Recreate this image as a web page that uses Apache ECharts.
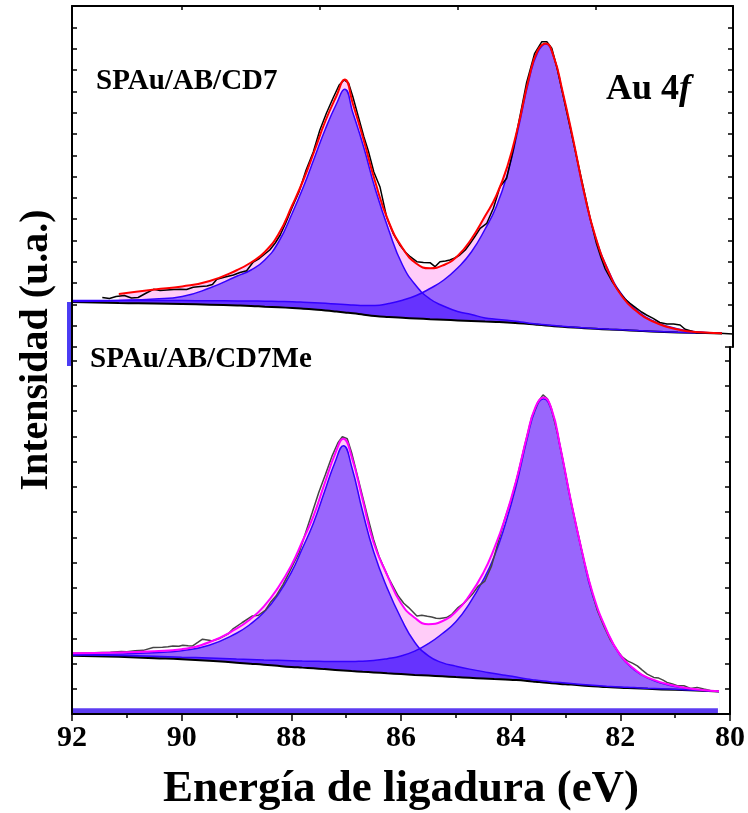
<!DOCTYPE html>
<html>
<head>
<meta charset="utf-8">
<script src="https://cdn.jsdelivr.net/npm/echarts@6/dist/echarts.min.js"></script>
<style>
  html, body { margin: 0; padding: 0; background: #fff; }
  #chart { width: 748px; height: 813px; }
</style>
</head>
<body>
<div id="chart"></div>
<script>
/* binding energy grid shared by the fitted curves (eV) */
var energy = [92, 91.15, 90.5, 90, 89.5, 89, 88.75, 88.5, 88.25, 88, 87.8, 87.6, 87.4, 87.2, 87.05, 86.9, 86.7, 86.5, 86.25, 86,
  85.75, 85.5, 85.25, 85, 84.75, 84.5, 84.3, 84.1, 83.9, 83.7, 83.55, 83.4, 83.25, 83.1, 82.9, 82.7, 82.5, 82.25, 82, 81.75,
  81.5, 81, 80.5, 80.2];

/* SPAu/AB/CD7 (upper panel), intensity in a.u. */
var topBackground = [45, 43.9, 43.5, 43, 42.3, 41.5, 41, 40.3, 39.7, 39, 38.3, 37.5, 36.6, 35.5, 34.6, 33.7, 32.3, 31, 30, 29.2,
  28.5, 27.8, 27.2, 26.6, 26, 25.4, 25, 24.5, 23.8, 23, 22.3, 21.5, 20.8, 20.2, 19.5, 18.8, 18.2, 17.5, 16.9, 16.3,
  15.6, 14.6, 13.9, 13.6];
var topPeak52 = [45.5, 46.6, 48, 50.5, 59, 71, 77, 87, 105, 134, 160, 189, 218, 243, 257.7, 234, 199, 159, 117, 82,
  61, 48, 40.8, 35.5, 32.5, 29, 27.8, 26.8, 25.5, 23.8, 23, 22.2, 21.4, 20.7, 20, 19.2, 18.6, 17.8, 17.2, 16.5,
  15.8, 14.8, 14, 13.7];
var topPeak72 = [46.5, 46.5, 46.5, 46.4, 46.3, 46.1, 46, 45.8, 45.5, 45.2, 44.8, 44.3, 43.7, 43, 42.5, 42, 41.5, 41.5, 43.5, 46.8,
  51.5, 58.5, 67, 79, 95, 118, 140, 172, 218, 268, 294, 303, 289, 256, 206, 153, 110.5, 75, 51, 37,
  27.5, 18, 14.6, 13.8];
var topEnvelope = [null, 53, 57.5, 60.5, 66, 77, 84.5, 95, 113, 142, 167, 196, 226, 251, 267.5, 243, 206, 166, 125, 99,
  83.5, 78.7, 82, 91, 108, 131, 151, 180, 221, 270, 296, 303.5, 289.5, 257, 207, 153.7, 110.7, 74, 49.5, 35.7,
  26.7, 17.5, 14.4, 13.7];
var topRawE = [91.45, 91.32, 91.2, 91.05, 90.92, 90.8, 90.65, 90.52, 90.4, 90.28, 90.15, 90.04, 89.92, 89.8, 89.67, 89.55, 89.45, 89.37,
  89.22, 89.07, 88.95, 88.83, 88.71, 88.6, 88.5, 88.41, 88.31, 88.22, 88.12, 88, 87.88, 87.75, 87.62, 87.5, 87.38, 87.26,
  87.15, 87.06, 86.98, 86.9, 86.8, 86.7, 86.62, 86.52, 86.41, 86.29, 86.17, 86.05, 85.95, 85.86, 85.74, 85.62, 85.5, 85.41,
  85.32, 85.22, 85.14, 85.05, 84.96, 84.86, 84.77, 84.68, 84.59, 84.47, 84.35, 84.23, 84.11, 83.99, 83.87, 83.75, 83.6, 83.47,
  83.38, 83.29, 83.2, 83.08, 82.96, 82.84, 82.72, 82.6, 82.48, 82.4, 82.32, 82.2, 82.05, 81.96, 81.87, 81.75, 81.66, 81.57,
  81.45, 81.33, 81.2, 81.08, 80.96, 80.87, 80.76, 80.66, 80.45, 80.24, 80];
var topRaw = [49.5, 48.5, 50.5, 51.5, 49, 49.5, 54, 57.7, 56.5, 57, 57.5, 57.7, 57.5, 59.7, 60.5, 61, 62.5, 67.7,
  70, 72, 74.5, 76.3, 85, 88.5, 93, 97, 104, 112, 124, 140, 155, 177, 195, 217, 234, 249,
  262, 267, 264, 250, 230, 210, 196, 175, 160.3, 130.3, 113.7, 102, 95, 90.3, 85.3, 84.5, 84.3, 80.3,
  85.3, 86, 87, 89, 92, 97, 103.7, 111, 118.7, 123.7, 138.7, 160.3, 168.7, 197, 230, 263.7, 293.7, 305.3,
  305.3, 298.7, 280.3, 250.3, 220.3, 190.3, 160.3, 130.3, 103.7, 90, 78, 66, 54, 48, 43.7, 38.7, 35, 32,
  28.7, 24.5, 23, 23, 22, 17.7, 16, 14.3, 14, 13.7, 13];

/* SPAu/AB/CD7Me (lower panel) */
var botBackground = [58.5, 57.3, 56, 55, 53.5, 51.5, 50.5, 49.5, 48.3, 47.2, 46.5, 45.8, 45, 44.2, 43.6, 43, 42.3, 41.7, 40.8, 40,
  39.2, 38.5, 37.8, 37, 36.3, 35.6, 35, 34.5, 34, 33.2, 32.4, 31.5, 30.8, 30.2, 29.5, 28.6, 27.8, 27, 26.3, 25.8,
  25.2, 24.2, 23.2, 22.6];
var botPeak52 = [59.2, 60.2, 61.5, 63.5, 69, 81, 90, 102, 119, 142, 166, 191, 222, 253, 269, 248, 203, 163, 126, 96,
  72, 58.3, 51.5, 48, 45, 42.5, 40.5, 38.8, 37, 35, 34, 33, 32.2, 31.5, 30.6, 29.6, 28.8, 27.9, 27.1, 26.5,
  25.8, 24.7, 23.6, 22.9];
var botPeak72 = [59.5, 58.7, 57.8, 57, 56.2, 55.2, 54.7, 54.2, 53.8, 53.4, 53.1, 52.9, 52.7, 52.6, 52.6, 52.6, 53, 53.6, 55.5, 58.2,
  63, 70.5, 80.5, 92.5, 111, 134.5, 158, 190, 229, 276, 305, 316, 303.5, 268, 212.5, 162.5, 118, 83.5, 58.5, 44.5,
  36, 27.5, 23.8, 22.6];
var botEnvelope = [61, 61.6, 63, 65, 72, 85.5, 95, 108, 126, 149, 173, 198, 230, 261, 276, 258, 215, 172, 139, 111,
  96.5, 90, 93, 102.5, 119, 141.5, 166, 196.5, 234, 279, 307.5, 317.3, 305, 269, 213.3, 163.3, 120.4, 84, 59, 45.3,
  36.4, 28, 24, 22.7];
var botRawE = [92, 91.6, 91.3, 91.1, 91, 90.85, 90.7, 90.52, 90.35, 90.25, 90.16, 90.05, 89.98, 89.88, 89.8, 89.7, 89.62, 89.5,
  89.44, 89.3, 89.15, 89.07, 88.9, 88.71, 88.6, 88.47, 88.38, 88.28, 88.15, 88.04, 87.95, 87.86, 87.75, 87.62, 87.5, 87.38,
  87.26, 87.15, 87.07, 86.98, 86.9, 86.8, 86.7, 86.6, 86.5, 86.4, 86.23, 86.05, 85.95, 85.86, 85.71, 85.62, 85.52, 85.44,
  85.36, 85.29, 85.17, 85.08, 84.96, 84.84, 84.7, 84.59, 84.47, 84.35, 84.23, 84.11, 83.99, 83.87, 83.75, 83.62, 83.5, 83.41,
  83.33, 83.26, 83.14, 83.02, 82.9, 82.78, 82.66, 82.54, 82.42, 82.3, 82.18, 82.05, 81.96, 81.87, 81.78, 81.69, 81.6, 81.51,
  81.39, 81.3, 81.22, 81.15, 81.05, 80.96, 80.84, 80.72, 80.6, 80.48, 80.36, 80.22];
var botRaw = [61, 61.3, 61.8, 62.7, 62.5, 63.5, 63.8, 66.7, 67, 67.5, 68.3, 68, 69, 68.5, 68.3, 72, 75, 74,
  73.3, 76, 80.5, 85, 91.5, 98.3, 99, 104.3, 112, 118.3, 130, 141.7, 152, 161.7, 180, 201.7, 222, 240,
  258.3, 272, 278, 276, 262, 240, 218, 196, 175, 158, 136.7, 118.3, 111, 106.7, 98.3, 99, 98, 97.3,
  96, 95.7, 96.7, 99.5, 106.7, 111.7, 120, 128.3, 133.3, 148.3, 171.7, 195, 215, 240, 268, 297, 313, 320,
  316, 307, 280, 247, 213, 183, 153, 127, 104, 88, 74, 63.3, 57, 53.3, 51, 48.3, 44, 40,
  36.7, 36, 34, 31.7, 30, 28.3, 28.3, 25.7, 26.7, 25, 23.5, 22.7];

/* stripe under the lower spectrum */
var stripeE = [92, 80.22];
var stripeLevel = [3.3, 3.3];

var FONT = '"Liberation Serif", "DejaVu Serif", serif';
var FILL_PEAK = 'rgba(51,0,255,0.5)';
var FILL_ENV = '#ffccf8';
var PEAK_LINE = '#3300ff';
var SMOOTH = 0.5;

function pairs(xs, ys) {
  return xs.map(function (x, i) { return [x, ys[i]]; });
}

function fillSeries(grid, xs, ys, color, z) {
  return {
    type: 'line', xAxisIndex: grid, yAxisIndex: grid * 2, data: pairs(xs, ys),
    smooth: SMOOTH, symbol: 'none', silent: true, z: z,
    lineStyle: { width: 0 },
    areaStyle: { color: color, opacity: 1, origin: 'start' }
  };
}

function lineSeries(grid, xs, ys, color, width, z, smooth) {
  return {
    type: 'line', xAxisIndex: grid, yAxisIndex: grid * 2, data: pairs(xs, ys),
    smooth: smooth, symbol: 'none', silent: true, z: z,
    lineStyle: { color: color, width: width }
  };
}

function panel(grid, bg, p1, p2, env, rawE, raw, envColor, rawColor) {
  return [
    fillSeries(grid, energy, env, FILL_ENV, 1),
    fillSeries(grid, energy, p1, FILL_PEAK, 2),
    fillSeries(grid, energy, p2, FILL_PEAK, 2),
    fillSeries(grid, energy, bg, '#ffffff', 3),
    lineSeries(grid, energy, bg, '#000000', 2, 4, SMOOTH),
    lineSeries(grid, energy, p1, PEAK_LINE, 1.5, 4, SMOOTH),
    lineSeries(grid, energy, p2, PEAK_LINE, 1.5, 4, SMOOTH),
    lineSeries(grid, rawE, raw, rawColor, 1.5, 5, false),
    lineSeries(grid, energy, env, envColor, 2, 6, SMOOTH)
  ];
}

function yAxes(grid, max, step) {
  var base = {
    gridIndex: grid, type: 'value', min: 0, max: max, interval: step, z: 10,
    axisLine: { show: true, onZero: false, lineStyle: { color: '#000', width: 2 } },
    axisTick: { show: true, inside: true, length: 5, lineStyle: { color: '#000', width: 1.5 } },
    axisLabel: { show: false }, splitLine: { show: false }
  };
  return [
    Object.assign({}, base, { position: 'left' }),
    Object.assign({}, base, { position: 'right' })
  ];
}

var chart = echarts.init(document.getElementById('chart'));
var series = []
  .concat(panel(0, topBackground, topPeak52, topPeak72, topEnvelope, topRawE, topRaw, '#ff0000', '#000000'))
  .concat(panel(1, botBackground, botPeak52, botPeak72, botEnvelope, botRawE, botRaw, '#ff00ff', '#454545'));
series.push(lineSeries(1, stripeE, stripeLevel, '#5d3cf2', 5, 7, false));

var options = {
  animation: false,
  grid: [
    { left: 72, right: 15, top: 6, height: 341 },
    { left: 72, right: 15, top: 347, height: 368 }
  ],
  xAxis: [
    {
      gridIndex: 0, type: 'value', min: 80, max: 92, inverse: true, position: 'top', interval: 2.5, z: 10,
      axisLine: { show: true, onZero: false, lineStyle: { color: '#000', width: 2 } },
      axisTick: { show: true, inside: true, length: 4, lineStyle: { color: '#000', width: 1.5 } },
      axisLabel: { show: false }, splitLine: { show: false }
    },
    {
      gridIndex: 1, type: 'value', min: 80, max: 92, inverse: true, position: 'bottom', interval: 2, z: 10,
      axisLine: { show: true, onZero: false, lineStyle: { color: '#000', width: 2 } },
      axisTick: { show: true, length: 7, lineStyle: { color: '#000', width: 1.5 } },
      minorTick: { show: true, splitNumber: 2, length: 4, lineStyle: { color: '#000', width: 1.5 } },
      axisLabel: { color: '#000', fontSize: 30, fontWeight: 'bold', fontFamily: FONT, margin: 9 },
      splitLine: { show: false },
      name: 'Energía de ligadura (eV)', nameLocation: 'middle', nameGap: 53,
      nameTextStyle: { color: '#000', fontSize: 45, fontWeight: 'bold', fontFamily: FONT }
    }
  ],
  yAxis: yAxes(0, 341, 21.3).concat(yAxes(1, 368, 25.3)),
  graphic: [
    {
      type: 'rect', z: 20, silent: true,
      shape: { x: 67, y: 302, width: 4, height: 64 },
      style: { fill: '#4b3cf4' }
    },
    {
      type: 'text', x: 37, y: 350, rotation: Math.PI / 2, z: 20,
      style: { text: 'Intensidad (u.a.)', fill: '#000', font: 'bold 40px ' + FONT, align: 'center', verticalAlign: 'middle' }
    },
    {
      type: 'text', x: 96, y: 82, z: 20,
      style: { text: 'SPAu/AB/CD7', fill: '#000', font: 'bold 29px ' + FONT, align: 'left', verticalAlign: 'middle' }
    },
    {
      type: 'text', x: 90, y: 360, z: 20,
      style: { text: 'SPAu/AB/CD7Me', fill: '#000', font: 'bold 29px ' + FONT, align: 'left', verticalAlign: 'middle' }
    },
    {
      type: 'text', x: 606, y: 90, z: 20,
      style: {
        text: '{a|Au 4}{b|f}', align: 'left', verticalAlign: 'middle',
        rich: {
          a: { fill: '#000', fontSize: 36, fontWeight: 'bold', fontFamily: FONT },
          b: { fill: '#000', fontSize: 36, fontWeight: 'bold', fontStyle: 'italic', fontFamily: FONT }
        }
      }
    }
  ],
  series: series
};
chart.setOption(options);
</script>
</body>
</html>
